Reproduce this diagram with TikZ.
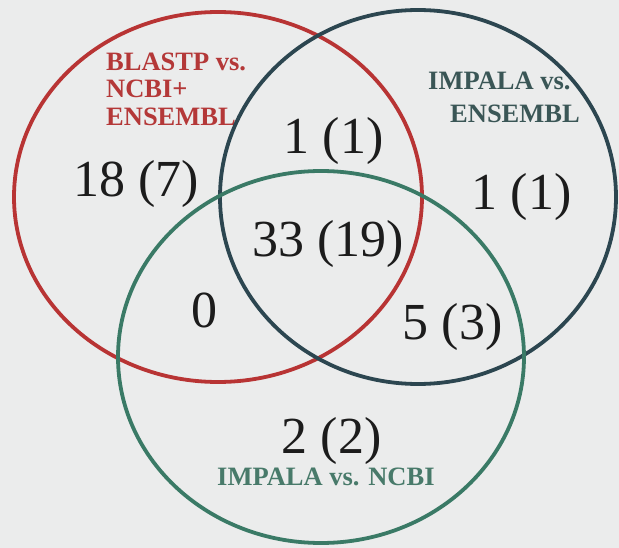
\documentclass[tikz,border=0pt]{standalone}
\usepackage{fontspec}
\setmainfont{Liberation Serif}
\usetikzlibrary{shapes.geometric}
\definecolor{bgc}{RGB}{235,236,236}
\definecolor{redc}{RGB}{184,52,52}
\definecolor{bluec}{RGB}{44,70,80}
\definecolor{greenc}{RGB}{58,122,102}
\definecolor{redt}{RGB}{180,56,56}
\definecolor{bluet}{RGB}{58,86,86}
\definecolor{greent}{RGB}{72,122,106}
\definecolor{numc}{RGB}{28,28,28}
\tikzset{
  ring/.style={ellipse, draw, line width=3.8pt, inner sep=0pt, outer sep=0pt},
  num/.style={anchor=base, inner sep=0pt, text=numc, font=\fontsize{52}{56}\selectfont},
  lab/.style={anchor=base west, inner sep=0pt, font=\bfseries\fontsize{26.5}{28}\selectfont}
}
\begin{document}
\begin{tikzpicture}[x=1pt,y=-1pt]
\fill[bgc] (0,0) rectangle (619,548);
\useasboundingbox (0,0) rectangle (619,548);
% labels
\node[lab, text=redt] (l1) at (106,71) {BLASTP vs.};
\node[lab, text=redt] (l2) at (106,98) {NCBI+};
\node[lab, text=redt] (l3) at (106,126) {ENSEMBL};
\node[lab, text=bluet] (l4) at (428,90) {IMPALA vs.};
\node[lab, text=bluet] (l5) at (450,123) {ENSEMBL};
\node[lab, text=greent] (l6) at (217,485) {IMPALA vs. NCBI};
% numbers
\node[num] (n1) at (136.5,197) {18 (7)};
\node[num] (n2) at (333.5,154) {1 (1)};
\node[num] (n3) at (521.5,210) {1 (1)};
\node[num] (n4) at (328,257) {33 (19)};
\node[num] (n5) at (204.5,327) {0};
\node[num] (n6) at (452.5,340) {5 (3)};
\node[num] (n7) at (331.5,453) {2 (2)};
% rings
\node[ring, draw=redc, minimum width=408pt, minimum height=370pt] (red) at (218,197) {};
\node[ring, draw=bluec, minimum width=396pt, minimum height=374pt] (blue) at (418,197) {};
\node[ring, draw=greenc, minimum width=406pt, minimum height=372pt] (green) at (321,357) {};
\end{tikzpicture}
\end{document}
